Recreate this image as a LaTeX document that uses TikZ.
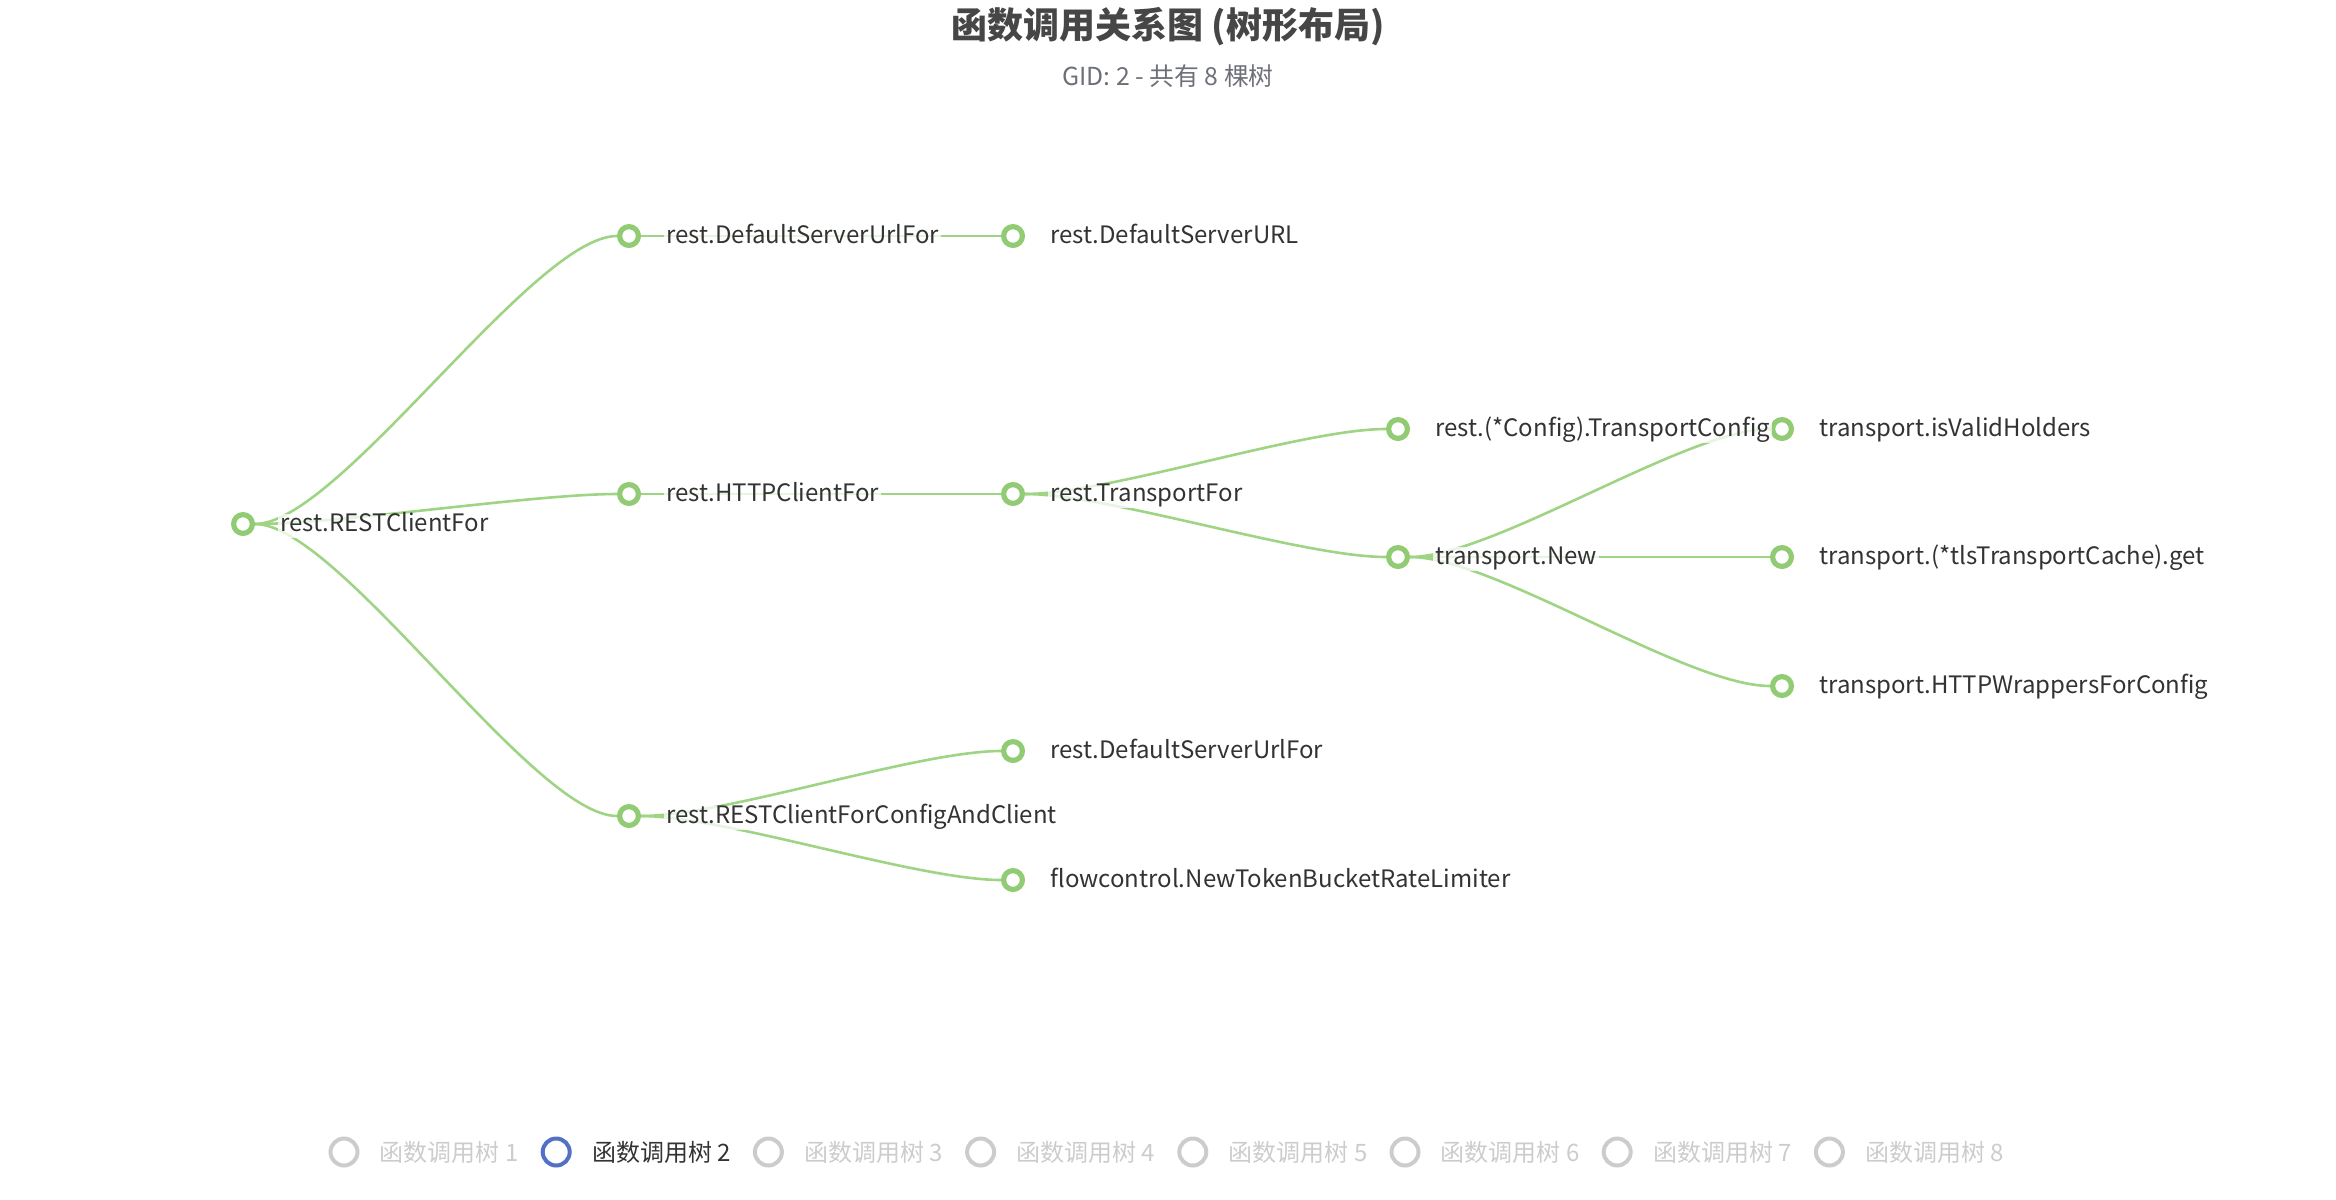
\documentclass[tikz,border=0pt]{standalone}
\usepackage{fontspec}
\setmainfont{Noto Sans CJK SC}
\usetikzlibrary{positioning,backgrounds,shadows}
\definecolor{leaf}{RGB}{145,204,117}
\definecolor{twig}{RGB}{158,212,132}
\definecolor{ink}{RGB}{51,51,51}
\definecolor{headgray}{RGB}{70,70,70}
\definecolor{subgray}{RGB}{110,112,121}
\definecolor{pick}{RGB}{84,112,198}
\definecolor{mute}{RGB}{204,204,204}

\begin{document}
\begin{tikzpicture}[x=0.5pt,y=-0.5pt,
  dot/.style={circle,draw=leaf,line width=2.6pt,fill=white,minimum size=9.4pt,inner sep=0pt,
    drop shadow={shadow xshift=0.6pt,shadow yshift=-0.9pt,opacity=0.12}},
  tag/.style={right=11.5pt of #1,yshift=-1pt,font=\fontsize{12}{14}\selectfont,text=ink,text height=0.75em,text depth=0.22em,
    fill=white,fill opacity=0.75,text opacity=1,inner sep=1pt},
  branch/.style={draw=twig,line width=1.3pt,
    to path={.. controls ([xshift=48pt]\tikztostart) and ([xshift=-48pt]\tikztotarget) .. (\tikztotarget)}}]
  \useasboundingbox (0,0) rectangle (2336,1200);
  % header
  \node[text=headgray,font=\fontsize{18}{20}\selectfont\bfseries] (title) at (1168,27) {函数调用关系图 (树形布局)};
  \node[text=subgray,font=\fontsize{12.4}{14}\selectfont] (subtitle) at (1168,76) {GID: 2 - 共有 8 棵树};
  % tree nodes, one column per call depth
  \foreach \n/\x/\y in {restClient/243/524, urlFor/629/236, httpClient/629/494, configClient/629/816,
      serverURL/1013/236, transportFor/1013/494, urlForB/1013/751, limiter/1013/880,
      transportConfig/1398/429, tNew/1398/557, validHolders/1782/429, tlsGet/1782/557, wrappers/1782/686}
    \node[dot] (\n) at (\x,\y) {};
  \foreach \n/\t in {restClient/rest.RESTClientFor, urlFor/rest.DefaultServerUrlFor, httpClient/rest.HTTPClientFor,
      configClient/rest.RESTClientForConfigAndClient, serverURL/rest.DefaultServerURL, transportFor/rest.TransportFor,
      urlForB/rest.DefaultServerUrlFor, limiter/flowcontrol.NewTokenBucketRateLimiter,
      transportConfig/rest.(*Config).TransportConfig, tNew/transport.New, validHolders/transport.isValidHolders,
      tlsGet/transport.(*tlsTransportCache).get, wrappers/transport.HTTPWrappersForConfig}
    \node[tag=\n] (\n-l) {\t};
  % calls
  \begin{scope}[on background layer]
    \foreach \p/\c in {restClient/urlFor, restClient/httpClient, restClient/configClient, urlFor/serverURL,
        httpClient/transportFor, configClient/urlForB, configClient/limiter, transportFor/transportConfig,
        transportFor/tNew, tNew/validHolders, tNew/tlsGet, tNew/wrappers}
      \draw[branch] (\p) to (\c);
  \end{scope}
  % legend
  \foreach \i in {1,...,8} {
    \pgfmathsetmacro{\lx}{344+212.2*(\i-1)}
    \ifnum\i=2 \def\lc{pick}\def\tc{ink}\else\def\lc{mute}\def\tc{mute}\fi
    \node[circle,draw=\lc,line width=2pt,minimum size=13.5pt,inner sep=0pt] (key\i) at (\lx,1152) {};
    \node[right=9pt of key\i,text=\tc,font=\fontsize{12}{14}\selectfont,inner sep=1pt] (key\i-l) {函数调用树 \i};
  }
\end{tikzpicture}
\end{document}
